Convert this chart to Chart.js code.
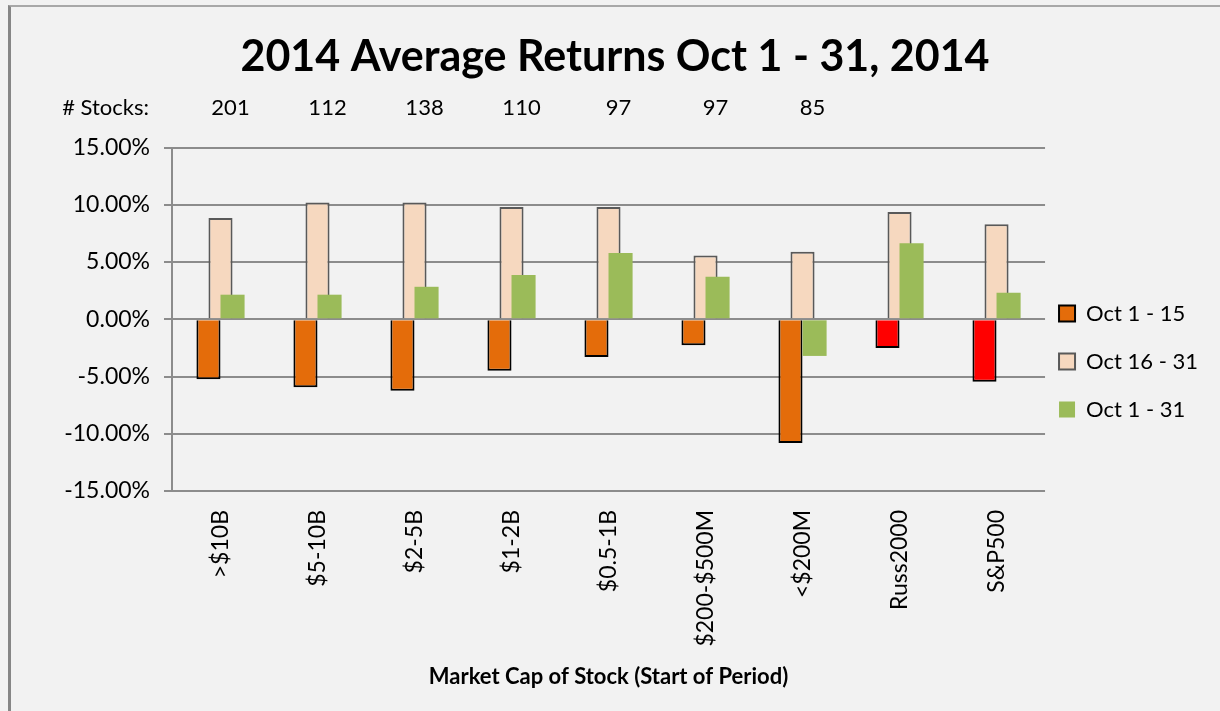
<!DOCTYPE html>
<html>
<head>
<meta charset="utf-8">
<title>2014 Average Returns Oct 1 - 31, 2014</title>
<script src="https://cdn.jsdelivr.net/npm/chart.js@4.4.1/dist/chart.umd.min.js"></script>
<style>
    html, body { margin: 0; padding: 0; background: #f2f2f2; overflow: hidden; }
    #marco {
        position: absolute; left: 8px; top: 5px; width: 1300px; height: 800px;
        border-left: 3px solid #868686; border-top: 2px solid #a8a8a8;
        background: #f2f2f2;
    }
    #grafico { position: absolute; left: 0; top: 0; }
</style>
</head>
<body>
<div id="marco"></div>
<canvas id="grafico" width="1220" height="711"></canvas>
<script>
// Categorias (capitalizacion de mercado)
const categorias = ['>$10B', '$5-10B', '$2-5B', '$1-2B', '$0.5-1B', '$200-$500M', '<$200M', 'Russ2000', 'S&P500'];

// Cantidad de acciones por grupo (fila "# Stocks:")
const cantidadAcciones = [201, 112, 138, 110, 97, 97, 85];

// Rendimientos en %
const oct1a15 = [-5.24, -5.93, -6.24, -4.50, -3.30, -2.27, -10.80, -2.50, -5.45];
const oct16a31 = [8.84, 10.20, 10.20, 9.80, 9.80, 5.57, 5.90, 9.37, 8.30];
const oct1a31 = [2.15, 2.15, 2.84, 3.88, 5.80, 3.71, -3.20, 6.64, 2.32];

// Marcas del eje Y
const ticksY = [-15, -10, -5, 0, 5, 10, 15];

const fuente = 'Lato';
const colorGrilla = '#8c8c8c';

// Colores de la primera serie: indices en rojo
const coloresOct1a15 = categorias.map(c => (c === 'Russ2000' || c === 'S&P500') ? '#ff0000' : '#e46c0a');

// Dibuja los datasets en orden 0,1,2 (el verde queda encima del durazno)
const ordenDibujo = {
    id: 'ordenDibujo',
    beforeDatasetsDraw(chart) {
        [0, 1, 2].forEach(i => chart.getDatasetMeta(i).controller.draw());
        return false;
    }
};

// Acerca la leyenda al grafico
const moverLeyenda = {
    id: 'moverLeyenda',
    afterLayout(chart) {
        chart.legend.left -= 12;
        chart.legend.right -= 12;
    }
};

// Fila "# Stocks:" arriba del grafico
const filaAcciones = {
    id: 'filaAcciones',
    afterDraw(chart) {
        const ctx = chart.ctx;
        const x = chart.scales.x;
        const y = chart.chartArea.top - 40;
        ctx.save();
        ctx.font = '22px ' + fuente;
        ctx.fillStyle = '#000';
        ctx.textBaseline = 'middle';
        ctx.textAlign = 'right';
        ctx.fillText('# Stocks:', 149, y);
        ctx.textAlign = 'center';
        cantidadAcciones.forEach((n, i) => {
            ctx.fillText(String(n), x.getPixelForValue(i) + 10, y);
        });
        ctx.restore();
    }
};

const ctx = document.getElementById('grafico').getContext('2d');
window.chart = new Chart(ctx, {
    type: 'bar',
    data: {
        labels: categorias,
        datasets: [
            {
                label: 'Oct 1 - 15',
                data: oct1a15,
                backgroundColor: coloresOct1a15,
                borderColor: '#000000',
                borderWidth: 2
            },
            {
                label: 'Oct 16 - 31',
                data: oct16a31,
                backgroundColor: '#f6d8bf',
                borderColor: '#595959',
                borderWidth: 2
            },
            {
                label: 'Oct 1 - 31',
                data: oct1a31,
                backgroundColor: '#9bbb59',
                borderColor: '#9bbb59',
                borderWidth: 0
            }
        ]
    },
    options: {
        responsive: false,
        animation: false,
        categoryPercentage: 0.3724,
        barPercentage: 2,
        layout: { padding: { left: 10, right: 0, top: 0, bottom: 0 } },
        plugins: {
            title: {
                display: true,
                text: '2014 Average Returns Oct 1 - 31, 2014',
                color: '#000',
                font: { family: fuente, size: 43, weight: 'bold' },
                padding: { top: 31, bottom: 65 }
            },
            legend: {
                position: 'right',
                align: 'center',
                title: { display: true, text: '', font: { size: 10 }, padding: 0 },
                labels: {
                    color: '#000',
                    font: { family: fuente, size: 22 },
                    boxWidth: 16,
                    boxHeight: 16,
                    padding: 26,
                    generateLabels(chart) {
                        return chart.data.datasets.map((ds, i) => ({
                            text: ds.label,
                            fillStyle: i === 0 ? '#e46c0a' : ds.backgroundColor,
                            strokeStyle: i === 0 ? '#000' : (i === 1 ? '#595959' : ds.backgroundColor),
                            lineWidth: i === 2 ? 0 : 2,
                            datasetIndex: i,
                            fontColor: '#000'
                        }));
                    }
                }
            },
            tooltip: { enabled: false }
        },
        scales: {
            x: {
                grid: { display: false, drawTicks: false },
                border: { display: false },
                ticks: {
                    color: '#000',
                    font: { family: fuente, size: 23 },
                    minRotation: 90,
                    maxRotation: 90,
                    autoSkip: false,
                    padding: 19
                },
                title: {
                    display: true,
                    text: 'Market Cap of Stock (Start of Period)',
                    color: '#000',
                    font: { family: fuente, size: 22, weight: 'bold' },
                    padding: { top: 0, bottom: 21 }
                },
                afterFit(scale) { scale.height = 220; }
            },
            y: {
                min: -15,
                max: 15,
                afterBuildTicks(scale) { scale.ticks = ticksY.map(v => ({ value: v })); },
                grid: { color: colorGrilla, lineWidth: 2, tickLength: 8 },
                border: { display: true, color: colorGrilla, width: 2 },
                ticks: {
                    color: '#000',
                    font: { family: fuente, size: 23 },
                    padding: 14,
                    callback: v => v.toFixed(2) + '%'
                },
                afterFit(scale) { scale.width = 162; }
            }
        }
    },
    plugins: [ordenDibujo, moverLeyenda, filaAcciones]
});
</script>
</body>
</html>
